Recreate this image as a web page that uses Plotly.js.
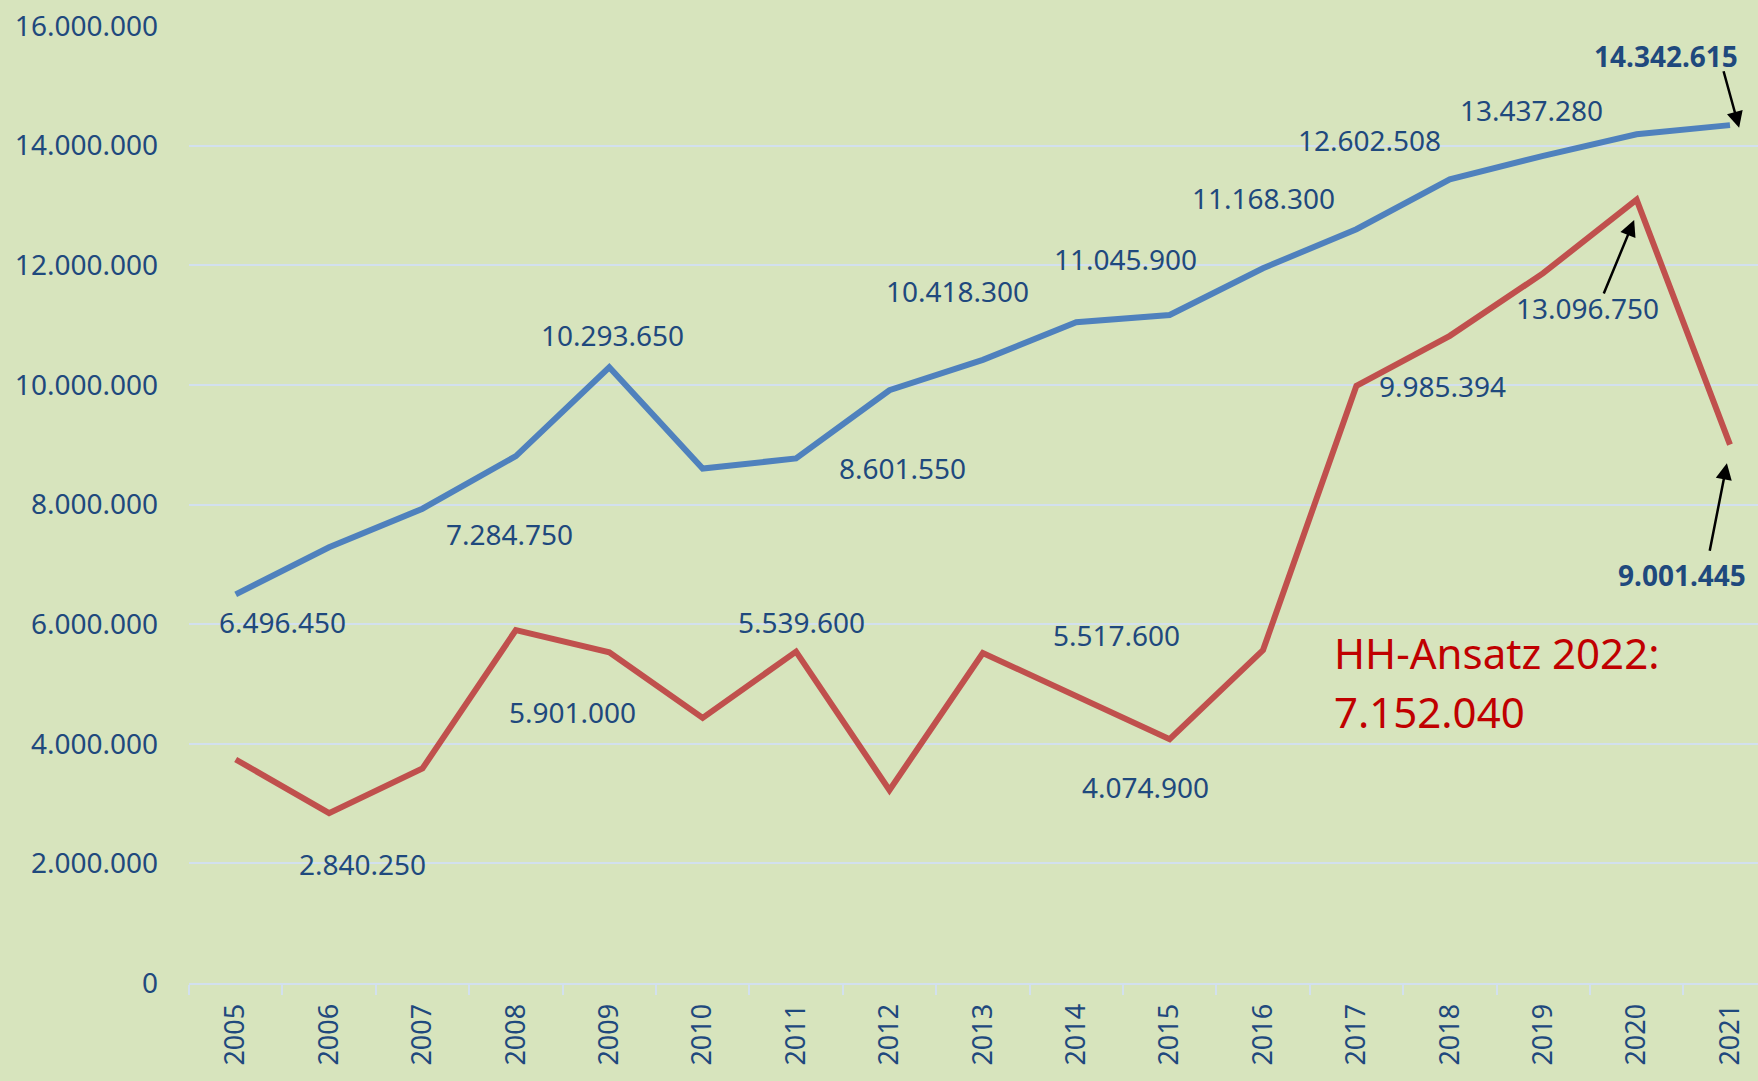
<!DOCTYPE html>
<html>
<head>
<meta charset="utf-8">
<script src="https://cdn.plot.ly/plotly-3.0.1.min.js"></script>
<style>
  html, body { margin: 0; padding: 0; background: #D7E4BD; }
  #chart { width: 1758px; height: 1081px; }
</style>
</head>
<body>
<div id="chart"></div>
<script>
// ---- data ----
const years = ['2005','2006','2007','2008','2009','2010','2011','2012','2013','2014','2015','2016','2017','2018','2019','2020','2021'];
const seriesBlue = [6496450, 7284750, 7930000, 8810000, 10293650, 8601550, 8770000, 9910000, 10418300, 11045900, 11168300, 11950000, 12602508, 13437280, 13830000, 14190000, 14342615];
const seriesRed  = [3737000, 2840250, 3587000, 5901000, 5530000, 4433000, 5539600, 3224000, 5517600, 4785000, 4074900, 5566000, 9985394, 10820000, 11868000, 13096750, 9001445];
const hhAnsatzLabel = 'HH-Ansatz 2022:';
const hhAnsatz2022 = 7152040;
const yTicks = [0, 2000000, 4000000, 6000000, 8000000, 10000000, 12000000, 14000000, 16000000];

function fmt(n) { return String(n).replace(/\B(?=(\d{3})+(?!\d))/g, '.'); }

const textColor = '#1F497D';
const FONT = '"Noto Sans", "Open Sans", sans-serif';

const traces = [
  { type: 'scatter', mode: 'lines', x: years, y: seriesBlue, name: 'Reihe 1',
    line: { color: '#4F81BD', width: 6 }, hoverinfo: 'skip' },
  { type: 'scatter', mode: 'lines', x: years, y: seriesRed, name: 'Reihe 2',
    line: { color: '#C0504D', width: 6 }, hoverinfo: 'skip' }
];

// label placements (x = category index, y = value-axis position)
const labelSpecs = [
  { s: seriesBlue, i: 0,  x: 0.499,  y: 6.018e6 },
  { s: seriesBlue, i: 1,  x: 2.929,  y: 7.490e6 },
  { s: seriesBlue, i: 4,  x: 4.032,  y: 10.807e6 },
  { s: seriesBlue, i: 5,  x: 7.137,  y: 8.577e6 },
  { s: seriesBlue, i: 8,  x: 7.726,  y: 11.543e6 },
  { s: seriesBlue, i: 9,  x: 9.524,  y: 12.074e6 },
  { s: seriesBlue, i: 10, x: 11.002, y: 13.106e6 },
  { s: seriesBlue, i: 12, x: 12.137, y: 14.069e6 },
  { s: seriesBlue, i: 13, x: 13.872, y: 14.571e6 },
  { s: seriesRed,  i: 1,  x: 1.355,  y: 1.969e6 },
  { s: seriesRed,  i: 3,  x: 3.604,  y: 4.512e6 },
  { s: seriesRed,  i: 6,  x: 6.056,  y: 6.018e6 },
  { s: seriesRed,  i: 8,  x: 9.428,  y: 5.800e6 },
  { s: seriesRed,  i: 10, x: 9.739,  y: 3.257e6 },
  { s: seriesRed,  i: 12, x: 12.924, y: 9.954e6 },
  { s: seriesRed,  i: 15, x: 14.476, y: 11.254e6 }
];

const annotations = labelSpecs.map(l => ({
  xref: 'x', yref: 'y', x: l.x, y: l.y, text: fmt(l.s[l.i]), showarrow: false,
  xanchor: 'center', yanchor: 'middle', yshift: 1.5,
  font: { family: FONT, size: 28, color: textColor }
}));

// bold labels for 2021
annotations.push({ xref: 'x', yref: 'y', x: 15.311, y: 15.475e6, text: '<b>' + fmt(seriesBlue[16]) + '</b>',
  showarrow: false, xanchor: 'center', yanchor: 'middle', yshift: 1.5, font: { family: FONT, size: 28, color: textColor } });
annotations.push({ xref: 'x', yref: 'y', x: 15.488, y: 6.804e6, text: '<b>' + fmt(seriesRed[16]) + '</b>',
  showarrow: false, xanchor: 'center', yanchor: 'middle', yshift: 1.5, font: { family: FONT, size: 28, color: textColor } });

// arrows
const arrows = [
  { x: 16.098, y: 14.298e6, ax: 15.927, ay: 15.269e6 },
  { x: 14.974, y: 12.757e6, ax: 14.642, ay: 11.503e6 },
  { x: 15.967, y: 8.689e6,  ax: 15.780, ay: 7.200e6 }
];
arrows.forEach(a => annotations.push({
  xref: 'x', yref: 'y', axref: 'x', ayref: 'y', x: a.x, y: a.y, ax: a.ax, ay: a.ay,
  text: '', showarrow: true, arrowhead: 2, arrowsize: 1.3, arrowwidth: 2.5, arrowcolor: '#000000', standoff: 0
}));

// HH-Ansatz text
annotations.push({ xref: 'x', yref: 'y', x: 11.74, y: 5.524e6, text: hhAnsatzLabel, showarrow: false,
  xanchor: 'left', yanchor: 'middle', font: { family: FONT, size: 42, color: '#C00000' } });
annotations.push({ xref: 'x', yref: 'y', x: 11.74, y: 4.545e6, text: fmt(hhAnsatz2022), showarrow: false,
  xanchor: 'left', yanchor: 'middle', font: { family: FONT, size: 42, color: '#C00000' } });

const gridColor = '#D2E0EE';

const layout = {
  width: 1758, height: 1081,
  paper_bgcolor: '#D7E4BD', plot_bgcolor: '#D7E4BD',
  margin: { l: 189, r: 0, t: 26, b: 98, autoexpand: false },
  separators: ',.',
  showlegend: false,
  font: { family: FONT, color: textColor },
  xaxis: {
    type: 'category', categoryorder: 'array', categoryarray: years,
    range: [-0.5, 16.3], fixedrange: true,
    showgrid: false, zeroline: false,
    showline: true, linecolor: gridColor, linewidth: 2,
    ticks: 'outside', tickson: 'boundaries', ticklen: 10, tickwidth: 2, tickcolor: gridColor,
    tickangle: -90, tickfont: { family: FONT, size: 27, color: textColor },
    ticklabelstandoff: 8
  },
  yaxis: {
    range: [0, 16000000], tickvals: yTicks, ticktext: yTicks.map(fmt),
    showgrid: true, gridcolor: gridColor, gridwidth: 2,
    zeroline: false, showline: false, ticks: '',
    tickfont: { family: FONT, size: 28, color: textColor },
    ticklabelstandoff: 30, fixedrange: true
  },
  annotations: annotations
};

Plotly.newPlot('chart', traces, layout, { staticPlot: true, displayModeBar: false });
</script>
</body>
</html>
